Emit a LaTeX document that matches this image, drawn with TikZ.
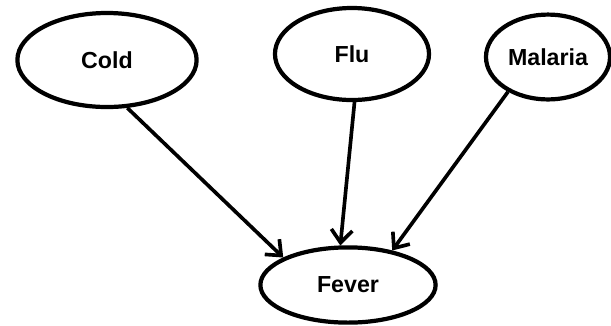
\documentclass[tikz,border=0pt]{standalone}
\usepackage{fontspec}
\setmainfont{Liberation Sans}
\usetikzlibrary{arrows.meta, shapes.geometric}

\begin{document}
\begin{tikzpicture}[x=0.025cm, y=-0.025cm,
    cause/.style={ellipse, draw, line width=3pt, inner sep=0pt,
      font=\fontsize{16.5}{19}\selectfont\bfseries},
    link/.style={line width=2.6pt, -{Straight Barb[length=9pt, width=15pt, line width=2.6pt]}}]
      \useasboundingbox (0,0) rectangle (611,325);

      % causes
      \node[cause, minimum width=4.48cm, minimum height=2.35cm] (cold) at (107,60) {Cold};
      \node[cause, minimum width=3.85cm, minimum height=2.3cm] (flu) at (352,54) {Flu};
      \node[cause, minimum width=3.1cm, minimum height=2.12cm] (malaria) at (548,57) {Malaria};

      % effect
      \node[cause, minimum width=4.38cm, minimum height=1.88cm] (fever) at (348,285) {Fever};

      % links
      \draw[link] (cold.-67) -- (fever.157);
      \draw[link] (flu.-87) -- (fever.101);
      \draw[link] (malaria.221) -- (fever.38);
    \end{tikzpicture}
\end{document}
